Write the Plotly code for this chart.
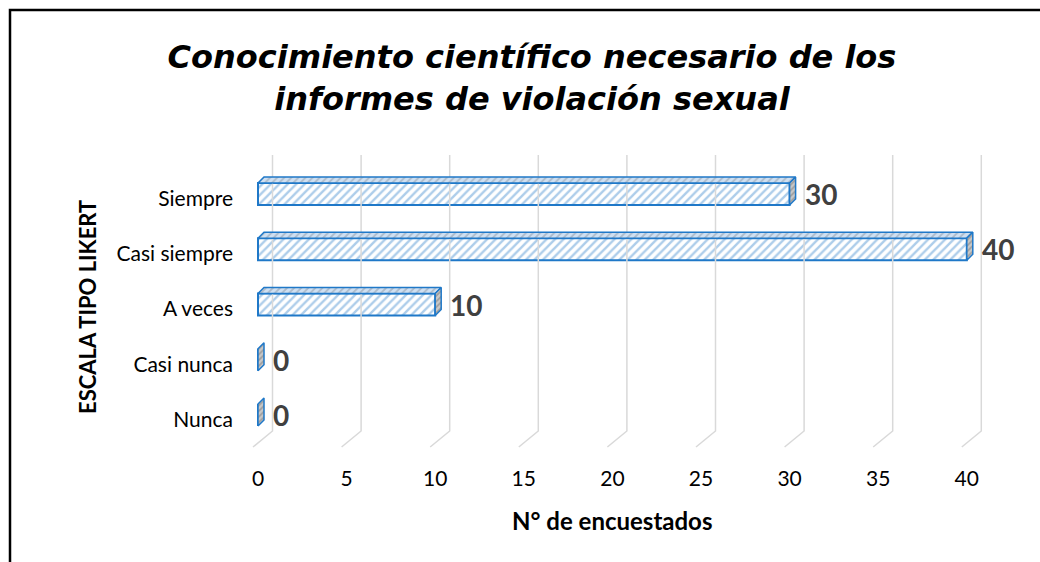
import plotly.graph_objects as go

# ---- data ----
categories = ["Nunca", "Casi nunca", "A veces", "Casi siempre", "Siempre"]
values = [0, 0, 10, 40, 30]
x_ticks = [0, 5, 10, 15, 20, 25, 30, 35, 40]
title_text = "Conocimiento científico necesario de los<br>informes de violación sexual"
x_title = "N° de encuestados"
y_title = "ESCALA TIPO LIKERT"

# ---- geometry (pixel based 3D look) ----
W, H = 1040, 562
ML, MR, MT, MB = 240, 10, 130, 102
PW, PH = W - ML - MR, H - MT - MB
SX = 17.72          # px per x unit
X0PX = 258          # px of x=0
SY = 55.25          # px per category
Y0PX = 415          # px of first category (from top)
xmin = -(X0PX - ML) / SX
xmax = xmin + PW / SX
ymin = -((H - MB) - Y0PX) / SY
ymax = ymin + PH / SY

BW = 0.4                       # bar thickness (units)
DDX, DDY = 6 / SX, 6 / SY      # bar depth offset
GDX = 14.5 / SX                # gridline back offset
G_TOP = 4 + (194 - 155) / SY
G_BOT = -(431 - Y0PX) / SY
G_FLOOR = -(447 - Y0PX) / SY
G_FRONT = -5 / SX

idx = list(range(len(categories)))

fig = go.Figure()

# gridlines (back wall + floor slant)
gx, gy = [], []
for v in x_ticks:
    gx += [v + GDX, v + GDX, v + G_FRONT, None]
    gy += [G_TOP, G_BOT, G_FLOOR, None]
fig.add_trace(go.Scatter(x=gx, y=gy, mode="lines",
                         line=dict(color="#d9d9d9", width=1.5),
                         hoverinfo="skip", showlegend=False))

blue = "#1F78C8"

# front faces
fig.add_trace(go.Bar(
    x=values, y=idx, orientation="h", width=BW,
    marker=dict(color="white", line=dict(color=blue, width=2),
                pattern=dict(shape="/", fgcolor="#5B9BD5", bgcolor="white",
                             size=6, solidity=0.4)),
    showlegend=False, hoverinfo="skip"))

# top faces
tx, ty = [], []
for i, v in zip(idx, values):
    if v <= 0:
        continue
    t = i + BW / 2
    tx += [0, v, v + DDX, DDX, 0, None]
    ty += [t, t, t + DDY, t + DDY, t, None]
fig.add_trace(go.Scatter(x=tx, y=ty, mode="lines", fill="toself",
                         line=dict(color=blue, width=1.5),
                         fillcolor="#c9d8e8",
                         fillpattern=dict(shape="/", fgcolor="#8a96a3",
                                          bgcolor="#cfe0f2", size=5, solidity=0.35),
                         hoverinfo="skip", showlegend=False))

# end faces
ex, ey = [], []
for i, v in zip(idx, values):
    b, t = i - BW / 2, i + BW / 2
    ex += [v, v, v + DDX, v + DDX, v, None]
    ey += [b, t, t + DDY, b + DDY, b, None]
fig.add_trace(go.Scatter(x=ex, y=ey, mode="lines", fill="toself",
                         line=dict(color=blue, width=1.5),
                         fillcolor="#9a9a9a",
                         fillpattern=dict(shape="/", fgcolor="#6f6f6f",
                                          bgcolor="#c8c8c8", size=4, solidity=0.4),
                         hoverinfo="skip", showlegend=False))

# data labels
annotations = []
for i, v in zip(idx, values):
    annotations.append(dict(x=v + DDX, y=i, xref="x", yref="y", text=str(v),
                            showarrow=False, xanchor="left", yanchor="middle",
                            xshift=7,
                            font=dict(family="Lato", size=28, color="#404040",
                                      weight="bold")))

# y-axis title
annotations.append(dict(x=(87 - ML) / PW, y=((H - MB) - 307) / PH,
                        xref="paper", yref="paper", text="<b>" + y_title + "</b>",
                        textangle=-90, showarrow=False,
                        xanchor="center", yanchor="middle",
                        font=dict(family="Lato", size=22, color="#000000")))

# x-axis title
annotations.append(dict(x=(612 - ML) / PW, y=((H - MB) - 520) / PH,
                        xref="paper", yref="paper", text="<b>" + x_title + "</b>",
                        showarrow=False, xanchor="center", yanchor="middle",
                        font=dict(family="Lato", size=24, color="#000000")))

# border frame
shapes = [dict(type="rect", xref="paper", yref="paper",
               x0=(10 - ML) / PW, x1=(W + 20 - ML) / PW,
               y0=((H - MB) - (H + 20)) / PH, y1=((H - MB) - 10) / PH,
               line=dict(color="black", width=2.5), fillcolor="rgba(0,0,0,0)",
               layer="above")]

fig.update_layout(
    width=W, height=H,
    margin=dict(l=ML, r=MR, t=MT, b=MB),
    paper_bgcolor="white", plot_bgcolor="white",
    title=dict(text="<b><i>" + title_text + "</i></b>", x=532 / W, xanchor="center",
               y=1 - 68 / H, yanchor="middle",
               font=dict(family="DejaVu Sans", size=32, color="#000000")),
    xaxis=dict(range=[xmin, xmax], tickvals=x_ticks, ticktext=[str(t) for t in x_ticks],
               showgrid=False, zeroline=False, showline=False, ticks="",
               ticklabelstandoff=4,
               tickfont=dict(family="Lato", size=21, color="#000000")),
    yaxis=dict(range=[ymin, ymax], tickvals=[i - 0.08 for i in idx], ticktext=categories,
               showgrid=False, zeroline=False, showline=False, ticks="",
               ticklabelstandoff=6,
               tickfont=dict(family="Lato", size=21, color="#000000")),
    annotations=annotations,
    shapes=shapes,
    bargap=0.5,
)

fig.write_html("out.html", config={"displayModeBar": False},
               post_script="document.body.style.margin='0';")
